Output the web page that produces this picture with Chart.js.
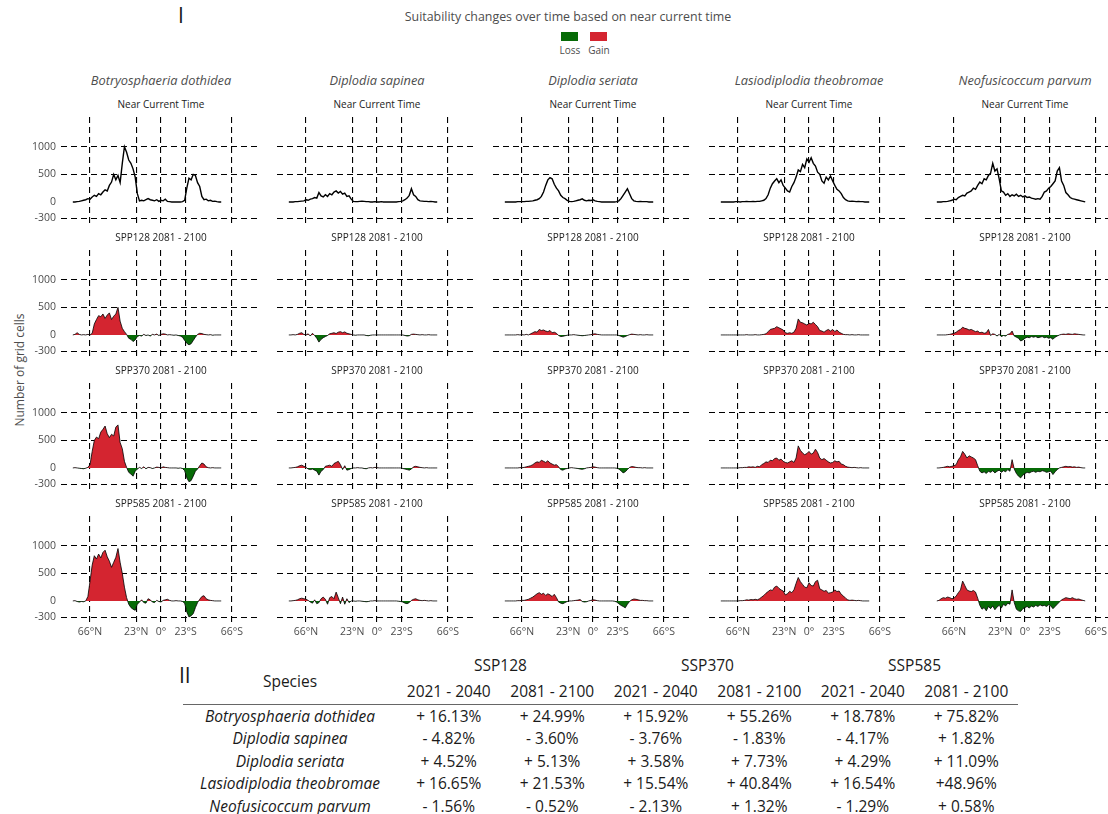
<!DOCTYPE html>
<html>
<head>
<meta charset="utf-8">
<title>Suitability changes over time</title>
<script src="https://cdn.jsdelivr.net/npm/chart.js@4.4.1/dist/chart.umd.min.js"></script>
<style>
  html, body { margin: 0; padding: 0; background: #fff; overflow: hidden; }
  #page { position: relative; width: 1108px; height: 814px; overflow: hidden;
          font-family: "Open Sans", "Noto Sans", sans-serif; color: #4d4d4d; }
  .abs { position: absolute; white-space: nowrap; line-height: 1; }
  .ctr { transform: translateX(-50%); }
  canvas { position: absolute; }
  .species { font-size: 12.8px; font-style: italic; }
  .ptitle  { font-size: 10px; color: #222; }
  .box { position: absolute; width: 17px; height: 9px; }
  #tbl { position: absolute; left: 183px; top: 653px; border-collapse: collapse;
         table-layout: fixed; font-size: 15.5px; color: #1a1a1a; }
  #tbl td { padding: 0; text-align: center; white-space: nowrap; line-height: 1.1; }
  #tbl tr.top td { height: 26px; }
  #tbl tr.sub td { height: 25px; border-bottom: 1px solid #666; }
  #tbl tr.row td { height: 22.5px; }
  #tbl td.sp { font-style: italic; }
</style>
</head>
<body>
<div id="page">
  <div class="abs" style="left:178px;top:5px;font-size:21px;color:#1a1a1a">I</div>
  <div class="abs ctr" style="left:568px;top:11px;font-size:12.4px">Suitability changes over time based on near current time</div>
  <div class="box" style="left:561px;top:32px;background:#076b07"></div>
  <div class="box" style="left:590px;top:32px;background:#d42530"></div>
  <div class="abs ctr" style="left:570px;top:45px;font-size:10px">Loss</div>
  <div class="abs ctr" style="left:599px;top:45px;font-size:10px">Gain</div>
  <div class="abs" style="left:20px;top:370px;font-size:12px;transform:translate(-50%,-50%) rotate(-90deg)">Number of grid cells</div>
  <div class="abs" style="left:179px;top:665px;font-size:21px;color:#1a1a1a">II</div>
  <table id="tbl"></table>
</div>
<script>
/* ── DATA ───────────────────────────────────────────────── */
const latitudes = [
  82, 80, 78, 76, 74, 72, 70, 68, 66, 64,
  62, 60, 58, 56, 54, 52, 50, 48, 46, 44,
  42, 40, 38, 36, 34, 32, 30, 28, 26, 24,
  22, 20, 18, 16, 14, 12, 10, 8, 6, 4,
  2, 0, -2, -4, -6, -8, -10, -12, -14, -16,
  -18, -20, -22, -24, -26, -28, -30, -32, -34, -36,
  -38, -40, -42, -44, -46, -48, -50, -52, -54, -56
];
const xTickValues = [66, 23, 0, -23, -66];
const xTickLabels = ["66°N", "23°N", "0°", "23°S", "66°S"];
const yTickValues = [-300, 0, 500, 1000];

const speciesNames = ["Botryosphaeria dothidea", "Diplodia sapinea", "Diplodia seriata",
                      "Lasiodiplodia theobromae", "Neofusicoccum parvum"];
const periodTitles = ["Near Current Time", "SPP128 2081 - 2100", "SPP370 2081 - 2100", "SPP585 2081 - 2100"];

// near current time (grid cells per latitude)
const botryoNear = [0,0,5,10,20,30,40,60,50,90, 120,100,150,130,180,220,200,300,360,500,
  400,480,350,700,1000,900,760,700,600,450, 150,20,30,20,40,60,40,30,20,40,
  10,30,20,50,10,5,0,0,0,0, 0,5,30,250,430,400,500,480,350,280, 100,40,50,20,30,10,15,5,0,0];
const sapineaNear = [0,0,0,5,5,10,15,20,40,30, 50,60,80,70,170,110,90,130,100,150,
  130,180,200,160,190,140,160,100,110,50, 10,5,5,10,15,10,5,5,0,0,
  5,0,0,5,0,0,0,0,0,0, 0,5,10,20,40,70,120,240,130,100, 40,20,15,10,10,5,10,5,0,0];
const seriataNear = [0,0,0,0,0,0,5,5,5,5, 10,10,15,20,30,40,60,100,180,300,
  400,440,420,320,250,200,120,80,60,30, 10,5,10,20,30,40,55,30,20,30,
  25,40,20,10,5,0,0,0,0,0, 0,0,5,20,60,120,180,240,150,60, 20,10,5,10,5,5,5,0,0,0];
const lasioNear = [0,0,0,0,0,0,0,5,5,0, 5,5,10,5,5,10,5,10,10,20,
  30,60,130,250,330,380,420,350,400,300, 250,200,180,280,350,450,580,550,680,620,
  780,720,800,700,650,540,500,380,340,450, 400,470,380,300,230,200,150,80,40,20, 10,15,10,5,10,5,5,0,0,0];
const neofusNear = [0,0,0,5,5,10,20,30,50,40, 80,100,120,110,160,180,200,250,230,300,
  360,330,420,400,480,520,700,560,600,420, 200,180,120,150,100,130,110,140,100,120,
  90,110,80,90,70,60,50,60,50,100, 180,200,250,280,330,380,560,620,380,300, 170,130,80,60,50,40,30,20,10,0];

// SSP128 2081-2100 change
const botryo128 = [0,10,40,10,0,5,0,10,0,30, 200,280,350,330,380,300,360,400,280,340,
  380,500,250,120,60,10,-60,-80,-120,-90, -30,-10,-20,10,-10,0,-20,10,0,15,
  -10,10,20,15,0,5,0,-5,0,-10, -20,-40,-100,-150,-180,-160,-100,-40,10,30, 25,10,5,0,5,-5,0,0,0,0];
const sapinea128 = [0,0,5,0,10,30,40,10,0,20, -20,30,-10,-60,-130,-80,-50,-30,-10,20,
  30,40,25,50,60,40,55,30,20,10, 0,-5,0,0,0,0,-10,-15,-5,0,
  0,0,0,0,0,0,0,0,0,0, 0,0,0,0,-10,-20,-15,10,15,10, 5,0,5,0,0,5,0,0,0,0];
const seriata128 = [0,0,0,0,0,0,5,0,5,0, 10,0,20,40,60,50,100,80,90,70,
  60,80,40,50,30,-10,-30,-25,-15,-5, 0,0,5,0,-5,-10,-15,-10,-5,0,
  5,15,20,10,5,0,0,0,0,0, 0,0,0,-10,-25,-40,-30,-10,5,15, 10,5,0,5,0,0,5,0,0,0];
const lasio128 = [0,0,0,0,0,0,0,0,0,0, 0,0,5,0,0,0,5,0,0,5,
  10,20,60,100,110,120,150,130,110,90, 40,30,40,30,50,120,290,230,220,200,
  180,210,200,230,190,150,80,70,50,80, 100,70,100,60,90,50,30,10,5,5, 0,5,0,0,5,0,0,0,0,0];
const neofus128 = [0,0,0,0,0,5,10,20,30,50, 80,100,140,120,110,90,100,80,60,70,
  40,50,30,40,100,-10,20,10,-20,10, -30,-10,-20,10,20,70,-20,-40,-60,-110,
  -90,-60,-40,-50,-30,-40,-30,-50,-40,-30, -50,-40,-60,-50,-80,-40,-20,0,10,15, 10,20,15,10,20,15,10,5,0,0];

// SSP370 2081-2100 change
const botryo370 = [0,5,0,-5,-10,-15,-5,10,60,300, 500,560,530,650,700,760,620,550,610,580,
  740,780,460,350,120,10,-80,-110,-150,-60, -20,10,-10,20,-15,10,5,-10,0,15,
  10,0,20,10,5,0,0,0,0,-5, 0,-10,-50,-180,-250,-230,-150,-60,-20,40, 90,70,20,5,0,5,0,0,0,0];
const sapinea370 = [0,0,5,10,20,40,50,30,10,-20, -30,-20,-40,-60,-130,-60,-30,30,40,50,
  30,80,100,120,60,-30,40,-40,-30,-10, 0,0,5,0,0,-10,-15,0,5,0,
  10,5,0,0,0,0,0,0,0,0, 0,0,0,-10,-20,-30,-40,-20,20,30, 20,10,5,0,5,0,0,0,0,0];
const seriata370 = [0,0,0,0,0,0,0,5,5,10, 20,30,40,60,90,110,100,140,120,100,
  130,90,70,50,60,20,-30,-40,-20,-10, 0,5,0,-5,-10,-20,-25,-15,0,5,
  10,20,15,5,0,0,0,0,0,0, 0,0,-5,-20,-50,-90,-70,-30,10,25, 20,10,5,5,0,5,0,0,0,0];
const lasio370 = [0,0,0,0,0,0,0,0,0,5, 5,10,10,20,15,20,10,30,20,60,
  80,110,100,140,130,170,180,140,160,120, 100,90,110,130,100,180,400,320,270,240,
  260,300,250,270,340,280,180,150,170,140, 110,90,100,130,110,120,70,60,30,15, 10,5,10,5,0,5,0,0,0,0];
const neofus370 = [0,0,5,10,20,30,20,30,40,60, 150,200,300,250,180,220,200,180,150,40,
  -60,-90,-70,-100,-60,-80,-50,-90,-60,-40, -80,-50,-70,-30,-60,150,-20,-100,-150,-180,
  -130,-100,-80,-90,-70,-60,-80,-60,-70,-50, -60,-80,-70,-60,-120,-70,-30,0,10,20, 30,20,25,15,20,10,15,5,0,0];

// SSP585 2081-2100 change
const botryo585 = [0,5,-10,-20,-10,-15,0,80,360,650, 820,760,850,780,880,920,800,720,610,700,
  790,950,700,500,250,60,-60,-120,-150,-170, -60,-20,20,-30,-40,40,20,-20,-30,10,
  -10,-20,10,20,30,10,0,0,5,0, 0,-10,-40,-200,-290,-270,-230,-120,-30,30, 80,95,40,20,10,5,0,0,0,0];
const sapinea585 = [0,0,5,10,20,40,50,40,30,10, -20,-40,20,-50,-30,40,70,30,-60,60,
  80,40,160,60,-50,70,-60,40,-30,0, 0,-5,0,0,-5,-10,-15,-10,0,0,
  5,0,0,0,0,0,0,0,0,0, 0,-5,-10,-20,-40,-50,-30,10,30,40, 20,10,5,10,5,0,5,0,0,0];
const seriata585 = [0,0,0,0,0,0,5,5,10,10, 20,30,50,70,100,130,150,120,140,100,
  130,110,80,120,60,-20,-40,-50,-30,-10, 0,0,5,10,15,25,-10,-20,-15,0,
  10,20,15,5,0,0,0,0,0,0, 0,-5,-20,-50,-80,-100,-125,-60,-10,20, 35,30,20,10,10,5,5,0,0,0];
const lasio585 = [0,0,0,0,0,0,0,0,0,5, 5,10,20,15,25,20,30,20,40,70,
  100,140,170,200,190,250,270,230,200,180, 110,130,175,150,200,320,425,350,300,250,
  240,330,280,270,350,375,220,200,175,190, 140,150,160,200,170,180,120,90,50,20, 10,15,10,5,10,5,0,0,0,0];
const neofus585 = [0,10,40,60,50,70,60,40,50,90, 150,200,360,280,200,180,170,190,160,50,
  -80,-150,-120,-180,-100,-140,-90,-160,-110,-80, -130,-60,-90,-40,-60,200,-30,-150,-180,-190,
  -140,-120,-100,-130,-90,-110,-80,-100,-70,-90, -80,-100,-70,-90,-140,-100,-60,-20,20,40, 60,50,40,60,40,30,35,20,10,0];

// table II
const scenarioNames = ["SSP128", "SSP370", "SSP585"];
const periodNames = ["2021 - 2040", "2081 - 2100"];
const changeRows = [
  ["+ 16.13%", "+ 24.99%", "+ 15.92%", "+ 55.26%", "+ 18.78%", "+ 75.82%"],
  ["- 4.82%", "- 3.60%", "- 3.76%", "- 1.83%", "- 4.17%", "+ 1.82%"],
  ["+ 4.52%", "+ 5.13%", "+ 3.58%", "+ 7.73%", "+ 4.29%", "+ 11.09%"],
  ["+ 16.65%", "+ 21.53%", "+ 15.54%", "+ 40.84%", "+ 16.54%", "+48.96%"],
  ["- 1.56%", "- 0.52%", "- 2.13%", "+ 1.32%", "- 1.29%", "+ 0.58%"]
];

const panelSeries = [
  [botryoNear, sapineaNear, seriataNear, lasioNear, neofusNear],
  [botryo128, sapinea128, seriata128, lasio128, neofus128],
  [botryo370, sapinea370, seriata370, lasio370, neofus370],
  [botryo585, sapinea585, seriata585, lasio585, neofus585]
];

/* ── LAYOUT ─────────────────────────────────────────────── */
const GAIN = "#d42530", LOSS = "#076b07";
const PLOT_W = 200, PLOT_H = 107, AXIS_W = 45, AXIS_H = 20;
const COL0 = 61, COL_STEP = 216, ROW0 = 117, ROW_STEP = 133;
const tickFont = { family: "'Open Sans', sans-serif", size: 10.5 };
const page = document.getElementById("page");

// no label padding: chart area must be exactly PLOT_W x PLOT_H
function noPad(s) {
  s.paddingTop = 0; s.paddingBottom = 0; s.paddingLeft = 0; s.paddingRight = 0;
}

/* ── PANELS ─────────────────────────────────────────────── */
function panelConfig(vals, r, c) {
  const isBase = r === 0;
  return {
    type: "line",
    data: {
      datasets: [{
        data: vals.map((v, i) => ({ x: latitudes[i], y: v })),
        borderColor: "#000",
        borderWidth: isBase ? 1.4 : 0.8,
        pointRadius: 0,
        tension: 0,
        fill: isBase ? false : { target: "origin", above: GAIN, below: LOSS }
      }]
    },
    options: {
      responsive: false, animation: false, devicePixelRatio: 1,
      layout: { padding: 0, autoPadding: false },
      plugins: { legend: { display: false }, tooltip: { enabled: false } },
      scales: {
        x: {
          type: "linear", reverse: true, min: -93, max: 93,
          afterBuildTicks: s => { s.ticks = xTickValues.map(v => ({ value: v })); },
          afterFit: s => { s.height = AXIS_H; noPad(s); },
          grid: { color: "#000", lineWidth: 1.1, drawTicks: false },
          border: { display: false, dash: [6, 4] },
          ticks: {
            display: r === 3, autoSkip: false, maxRotation: 0, padding: 3,
            color: "#4d4d4d", font: tickFont,
            callback: (v, i) => xTickLabels[i]
          }
        },
        y: {
          min: -400, max: 1540,
          afterBuildTicks: s => { s.ticks = yTickValues.map(v => ({ value: v })); },
          afterFit: s => { s.width = AXIS_W; noPad(s); },
          grid: {
            color: ctx => (ctx.tick && ctx.tick.value === 0) ? "rgba(0,0,0,0)" : "#000",
            lineWidth: 1.1, drawTicks: false
          },
          border: { display: false, dash: [6, 4] },
          ticks: {
            display: c === 0, padding: 5, color: "#4d4d4d", font: tickFont,
            callback: v => String(v)
          }
        }
      }
    }
  };
}

function addText(cls, txt, left, top) {
  const d = document.createElement("div");
  d.className = "abs ctr " + cls;
  d.style.left = left + "px";
  d.style.top = top + "px";
  d.textContent = txt;
  page.appendChild(d);
}

speciesNames.forEach((name, c) => addText("species", name, COL0 + c * COL_STEP + PLOT_W / 2, 74));

panelSeries.forEach((rowSeries, r) => {
  const top = ROW0 + r * ROW_STEP;
  rowSeries.forEach((vals, c) => {
    const left = COL0 + c * COL_STEP;
    addText("ptitle", periodTitles[r], left + PLOT_W / 2, top - 18);
    const cv = document.createElement("canvas");
    cv.width = AXIS_W + PLOT_W;
    cv.height = PLOT_H + AXIS_H;
    cv.style.left = (left - AXIS_W) + "px";
    cv.style.top = top + "px";
    page.appendChild(cv);
    new Chart(cv, panelConfig(vals, r, c));
  });
});

/* ── TABLE ──────────────────────────────────────────────── */
function buildTable() {
  const colW = [214, 103.5, 103.5, 103.5, 103.5, 103.5, 103.5];
  let html = "<colgroup>" + colW.map(w => `<col style="width:${w}px">`).join("") + "</colgroup>";
  html += `<tr class="top"><td rowspan="2" style="border-bottom:1px solid #666;padding-top:6px">Species</td>` +
    scenarioNames.map(s => `<td colspan="2">${s}</td>`).join("") + "</tr>";
  html += `<tr class="sub">` + scenarioNames.map(() => periodNames.map(p => `<td>${p}</td>`).join("")).join("") + "</tr>";
  changeRows.forEach((row, i) => {
    html += `<tr class="row"><td class="sp">${speciesNames[i]}</td>` + row.map(v => `<td>${v}</td>`).join("") + "</tr>";
  });
  const t = document.getElementById("tbl");
  t.style.width = colW.reduce((a, b) => a + b, 0) + "px";
  t.innerHTML = html;
}
buildTable();
</script>
</body>
</html>
